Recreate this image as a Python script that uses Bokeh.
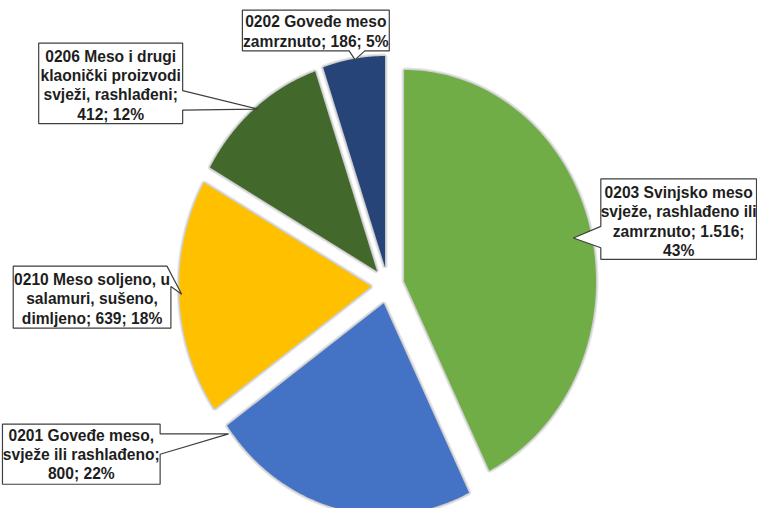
import numpy as np
from bokeh.plotting import figure
from bokeh.models import Range1d
from bokeh.embed import file_html
from bokeh.resources import INLINE
from bokeh.core.properties import value

# ---- data ----
codes = ["0203", "0201", "0210", "0206", "0202"]
values = [1516, 800, 639, 412, 186]
colors = ["#70AD47", "#4472C4", "#FFC000", "#43682B", "#264478"]
label_lines = [
    ["0203 Svinjsko meso", "svježe, rashlađeno ili", "zamrznuto; 1.516;", "43%"],
    ["0201 Goveđe meso,", "svježe ili rashlađeno;", "800; 22%"],
    ["0210 Meso soljeno, u", "salamuri, sušeno,", "dimljeno; 639; 18%"],
    ["0206 Meso i drugi", "klaonički proizvodi", "svježi, rashlađeni;", "412; 12%"],
    ["0202 Goveđe meso", "zamrznuto; 186; 5%"],
]

# ---- layout (reference-pixel data space 773 x 524) ----
W, H = 757, 508
REF_W, REF_H = 773, 524
CX, CY, RX, RY = 395.5, 294.0, 196.0, 218.0
EXPLODE = 0.087

# callout boxes: (L, T, R, B, side, a, b, tip)
callouts = [
    (613, 184, 772, 267, "left", 233, 255, (585, 245)),
    (2, 437, 163, 499, "right", 447, 468, (233, 447)),
    (13, 274, 174, 338, "corner", 170, 295, (185, 303)),
    (39, 44, 186, 127, "right", 93, 113, (263, 112)),
    (247, 10, 397, 52, "bottom", 356, 372, (362, 61)),
]
text_pos = [  # (center x, first line y, step)
    (692.5, 198, 20),
    (82.5, 449, 19.5),
    (93.5, 287.5, 20),
    (112.5, 58, 19.7),
    (322, 22, 20),
]

p = figure(width=W, height=H, x_range=Range1d(0, REF_W), y_range=Range1d(REF_H, 0),
           output_backend="svg", toolbar_location=None, min_border=0,
           x_axis_location=None, y_axis_location=None)
p.grid.visible = False
p.outline_line_color = None
p.background_fill_color = "white"
p.border_fill_color = "white"

# ---- pie slices computed from values ----
vals = np.array(values, dtype=float)
frac = vals / vals.sum()
ends = np.cumsum(frac) * 2 * np.pi
starts = ends - frac * 2 * np.pi
xs, ys = [], []
for s, e in zip(starts, ends):
    mid = (s + e) / 2
    ox = CX + EXPLODE * RX * np.sin(mid)
    oy = CY - EXPLODE * RY * np.cos(mid)
    t = np.linspace(s, e, 120)
    px = np.concatenate([[ox], ox + RX * np.sin(t)])
    py = np.concatenate([[oy], oy - RY * np.cos(t)])
    xs.append(px.tolist())
    ys.append(py.tolist())

p.patches(xs, ys, fill_color=None, line_color="#000000", line_alpha=0.10, line_width=5)
p.patches(xs, ys, fill_color=None, line_color="#000000", line_alpha=0.10, line_width=2.5)
p.patches(xs, ys, fill_color=colors, line_color=None)

# ---- callouts ----
cxs, cys = [], []
for (L, T, R, B, side, a, b, tip) in callouts:
    if side == "left":
        pts = [(L, T), (R, T), (R, B), (L, B), (L, b), tip, (L, a)]
    elif side == "right":
        pts = [(L, T), (R, T), (R, a), tip, (R, b), (R, B), (L, B)]
    elif side == "bottom":
        pts = [(L, T), (R, T), (R, B), (b, B), tip, (a, B), (L, B)]
    else:
        pts = [(L, T), (a, T), tip, (R, b), (R, B), (L, B)]
    cxs.append([q[0] for q in pts])
    cys.append([q[1] for q in pts])
p.patches(cxs, cys, fill_color="white", line_color="#3F3F3F", line_width=1.2)

tx, ty, tt = [], [], []
for lines, (x0, y0, step) in zip(label_lines, text_pos):
    for i, ln in enumerate(lines):
        tx.append(x0)
        ty.append(y0 + i * step)
        tt.append(ln)
p.text(tx, ty, text=tt, text_align="center", text_baseline="middle",
       text_font=value("Liberation Sans"), text_font_style="bold",
       text_font_size="15.6px", text_color="#1E1E1E")

open("out.html", "w").write(file_html(p, INLINE))
